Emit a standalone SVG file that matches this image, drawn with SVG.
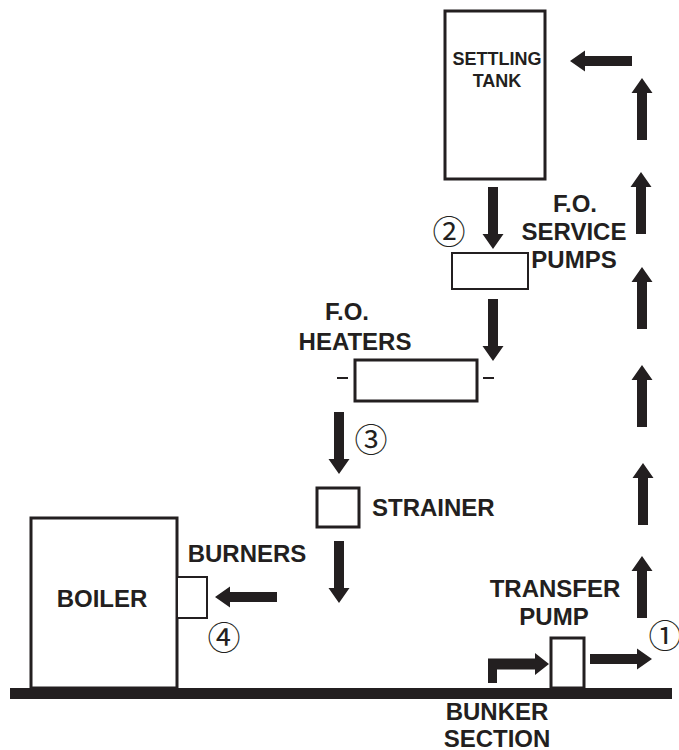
<svg xmlns="http://www.w3.org/2000/svg" xmlns:xlink="http://www.w3.org/1999/xlink" width="679" height="750" viewBox="0 0 679 750">
<style>
.lbl{font-family:"Liberation Sans",Arial,sans-serif;font-weight:bold;font-size:24px;fill:#231f20;text-anchor:middle}
.sm{font-size:18px}
.num{font-family:"Noto Sans CJK JP","DejaVu Sans",sans-serif;font-size:33px;fill:#231f20;text-anchor:middle;dominant-baseline:central}
.box{fill:#fff;stroke:#231f20;stroke-width:3}
.thin{stroke-width:2}
.arr{fill:#231f20}
</style>
<defs>
<path id="a" d="M0,-5 H47 V-10.5 L62,0 L47,10.5 V5 H0 Z"/>
</defs>
<rect x="10" y="688" width="662" height="11" fill="#231f20"/>
<g id="settling-tank">
<rect class="box" x="445" y="11" width="100" height="168"/>
<text class="lbl sm" x="497" y="65">SETTLING</text>
<text class="lbl sm" x="497" y="87">TANK</text>
</g>
<g id="service-pumps">
<rect class="box thin" x="452" y="253" width="76" height="36"/>
<text class="lbl" x="575" y="212">F.O.</text>
<text class="lbl" x="574" y="240">SERVICE</text>
<text class="lbl" x="574" y="268">PUMPS</text>
</g>
<g id="heaters">
<rect class="box" x="355" y="360" width="122" height="41"/>
<line x1="337" y1="378" x2="348" y2="378" stroke="#231f20" stroke-width="2"/>
<line x1="483" y1="378" x2="494" y2="378" stroke="#231f20" stroke-width="2"/>
<text class="lbl" x="347" y="320">F.O.</text>
<text class="lbl" x="355" y="350">HEATERS</text>
</g>
<g id="strainer">
<rect class="box" x="317" y="488" width="42" height="39"/>
<text class="lbl" x="372" y="516" style="text-anchor:start">STRAINER</text>
</g>
<g id="boiler">
<rect class="box" x="31" y="518" width="146" height="170"/>
<text class="lbl" x="102" y="607">BOILER</text>
</g>
<g id="burners">
<rect class="box thin" x="177" y="577" width="30" height="41"/>
<text class="lbl" x="247" y="562">BURNERS</text>
</g>
<g id="transfer-pump">
<rect class="box" x="551" y="638" width="33" height="50"/>
<text class="lbl" x="555" y="597">TRANSFER</text>
<text class="lbl" x="554" y="625">PUMP</text>
</g>
<g id="bunker">
<text class="lbl" x="497" y="720">BUNKER</text>
<text class="lbl" x="497" y="747">SECTION</text>
</g>
<g id="numbers">
<text class="num" x="665" y="634">①</text>
<text class="num" x="449" y="230">②</text>
<text class="num" x="371" y="438">③</text>
<text class="num" x="224" y="636">④</text>
</g>
<g id="connectors" class="arr">
<path d="M488,683 V658.5 H535 V653 L549,664 L535,675 V669.5 H497 V683 Z"/>
<use xlink:href="#a" transform="translate(590,659)"/>
<use xlink:href="#a" transform="translate(642,618) rotate(-90)"/>
<use xlink:href="#a" transform="translate(643,525) rotate(-90)"/>
<use xlink:href="#a" transform="translate(642,427) rotate(-90)"/>
<use xlink:href="#a" transform="translate(642,329) rotate(-90)"/>
<use xlink:href="#a" transform="translate(641,234) rotate(-90)"/>
<use xlink:href="#a" transform="translate(642,140) rotate(-90)"/>
<use xlink:href="#a" transform="translate(632,61) rotate(180)"/>
<use xlink:href="#a" transform="translate(493,187) rotate(90)"/>
<use xlink:href="#a" transform="translate(493,299) rotate(90)"/>
<use xlink:href="#a" transform="translate(339,412) rotate(90)"/>
<use xlink:href="#a" transform="translate(339,541) rotate(90)"/>
<use xlink:href="#a" transform="translate(277,597) rotate(180)"/>
</g>
</svg>
